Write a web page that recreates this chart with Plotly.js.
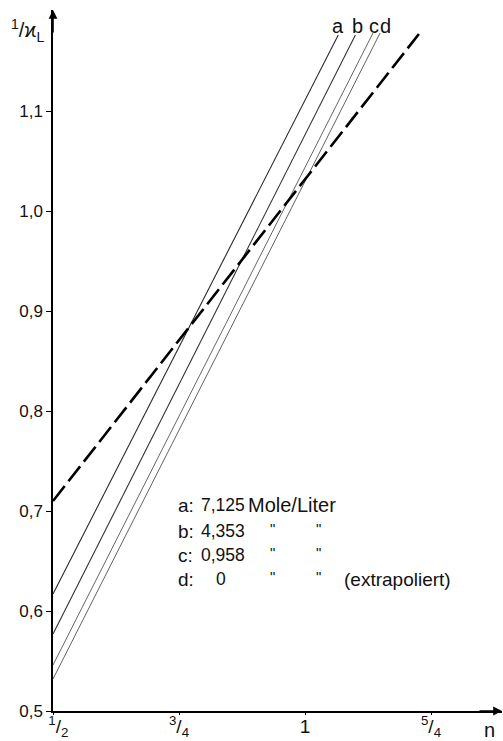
<!DOCTYPE html>
<html>
<head>
<meta charset="utf-8">
<script src="https://cdn.plot.ly/plotly-3.0.1.min.js"></script>
<style>html,body{margin:0;padding:0;background:#fff;}#chart{width:503px;height:741px;}</style>
</head>
<body>
<div id="chart"></div>
<script>
// ---- data ----
const seriesNames = ['a', 'b', 'c', 'd'];
const nA = [0.5, 1.066];  const yA = [0.617, 1.176];
const nB = [0.5, 1.100];  const yB = [0.577, 1.176];
const nC = [0.5, 1.135];  const yC = [0.546, 1.178];
const nD = [0.5, 1.149];  const yD = [0.532, 1.178];
const nDash = [0.5, 1.226]; const yDash = [0.710, 1.177];

const yTickVals = [0.5, 0.6, 0.7, 0.8, 0.9, 1.0, 1.1];
const yTickText = ['0,5', '0,6', '0,7', '0,8', '0,9', '1,0', '1,1'];
const xTickVals = [0.5, 0.75, 1.0, 1.25];
const xTickText = ['&nbsp;&nbsp;<sup>1</sup>/<sub>2</sub>', '<sup>3</sup>/<sub>4</sub>', '1', '<sup>5</sup>/<sub>4</sub>'];

const legendKeys = ['a', 'b', 'c', 'd'];
const concentrations = ['7,125', '4,353', '0,958', '0'];
const unitText = 'Mole/Liter';
const dittoMark = '"';
const extraNote = '(extrapoliert)';

const FONT = '"Liberation Sans", Arial, sans-serif';
const INK = '#111';

const lineX = [nA, nB, nC, nD];
const lineY = [yA, yB, yC, yD];
const lineColors = ['#2a2a2a', '#333333', '#555555', '#505050'];
const lineWidths = [1.1, 1.1, 0.9, 0.9];

const traces = seriesNames.map((name, i) => ({
  x: lineX[i], y: lineY[i], mode: 'lines', type: 'scatter', name: name,
  line: {color: lineColors[i], width: lineWidths[i]}, hoverinfo: 'skip'
}));
traces.push({
  x: nDash, y: yDash, mode: 'lines', type: 'scatter', name: 'extrapoliert',
  line: {color: '#000', width: 2.6, dash: '19px,6px'}, hoverinfo: 'skip'
});

// pixel helpers for annotation placement (layout only)
const px2x = px => 0.5 + (px - 53) / 504;
const py2y = py => 0.5 + (711 - py) / 1000;

const annotations = [];
const txt = (x, y, text, size, anchor) => ({
  x: x, y: y, xref: 'x', yref: 'y', text: text, showarrow: false,
  xanchor: anchor || 'left', yanchor: 'middle', font: {family: FONT, size: size, color: INK}
});
// curve labels at the top
const topLabelPx = [338, 357, 374, 385];
seriesNames.forEach((s, i) => annotations.push(txt(px2x(topLabelPx[i]), py2y(26), s, 20, 'center')));
// legend block
const rowPy = [505, 531, 555, 579];
legendKeys.forEach((k, i) => {
  annotations.push(txt(px2x(176), py2y(rowPy[i]), k + ':', 19));
  annotations.push(txt(px2x(i === 3 ? 214 : 199), py2y(rowPy[i]), concentrations[i], 17.5));
  if (i === 0) {
    annotations.push(txt(px2x(246), py2y(rowPy[i]), unitText, 20));
  } else {
    annotations.push(txt(px2x(272), py2y(rowPy[i] - 3), dittoMark, 15, 'center'));
    annotations.push(txt(px2x(318), py2y(rowPy[i] - 3), dittoMark, 15, 'center'));
  }
  if (i === 3) annotations.push(txt(px2x(342), py2y(rowPy[i]), extraNote, 19));
});
// axis titles
annotations.push({x: (27 - 53) / 449, y: 1 - (30 - 10) / 701, xref: 'paper', yref: 'paper',
  text: '<sup>1</sup>/ϰ<sub>L</sub>', showarrow: false, xanchor: 'center', yanchor: 'middle',
  font: {family: FONT, size: 20, color: INK}});
annotations.push({x: (489 - 53) / 449, y: -(730 - 711) / 701, xref: 'paper', yref: 'paper',
  text: 'n', showarrow: false, xanchor: 'center', yanchor: 'middle',
  font: {family: FONT, size: 20, color: INK}});
// arrow heads on the axes
annotations.push({x: 1, y: 0, xref: 'paper', yref: 'paper', ax: -24, ay: 0, text: '', showarrow: true,
  arrowhead: 2, arrowsize: 1.1, arrowwidth: 1.6, arrowcolor: '#000', standoff: 0, startstandoff: 0});
annotations.push({x: 0, y: 1, xref: 'paper', yref: 'paper', ax: 0, ay: 24, text: '', showarrow: true,
  arrowhead: 2, arrowsize: 1.1, arrowwidth: 1.6, arrowcolor: '#000', standoff: 0, startstandoff: 0});

const layout = {
  width: 503, height: 741,
  margin: {l: 53, r: 1, t: 10, b: 30, pad: 0},
  paper_bgcolor: '#fff', plot_bgcolor: '#fff',
  showlegend: false,
  font: {family: FONT, color: INK},
  xaxis: {
    range: [0.5, 0.5 + 449 / 504], showgrid: false, zeroline: false,
    showline: true, linecolor: '#000', linewidth: 1.6,
    tickmode: 'array', tickvals: xTickVals, ticktext: xTickText,
    ticks: 'outside', ticklen: 2, tickwidth: 1, tickcolor: '#000',
    tickfont: {family: FONT, size: 19, color: INK}, ticklabelstandoff: -4, fixedrange: true
  },
  yaxis: {
    range: [0.5, 0.5 + 701 / 1000], showgrid: false, zeroline: false,
    showline: true, linecolor: '#000', linewidth: 1.6,
    tickmode: 'array', tickvals: yTickVals, ticktext: yTickText,
    ticks: 'outside', ticklen: 5, tickwidth: 1, tickcolor: '#000',
    tickfont: {family: FONT, size: 17, color: INK}, fixedrange: true
  },
  annotations: annotations
};

Plotly.newPlot('chart', traces, layout, {staticPlot: true, displayModeBar: false});
</script>
</body>
</html>
